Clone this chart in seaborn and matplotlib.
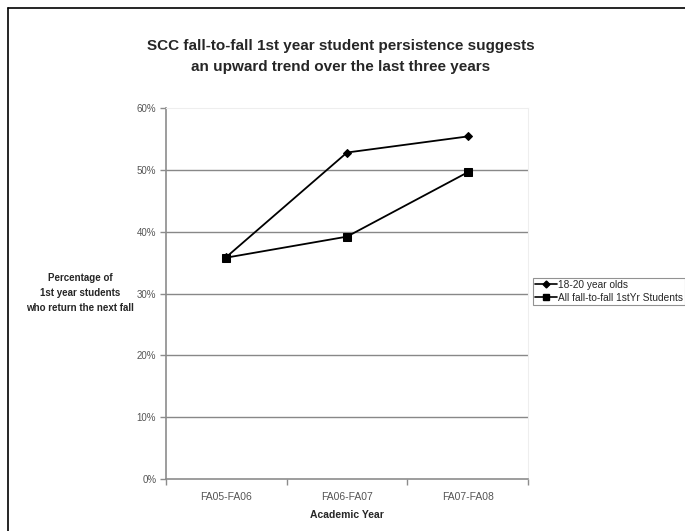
import matplotlib
matplotlib.use("Agg")
import matplotlib.pyplot as plt
from matplotlib.lines import Line2D
from matplotlib.ticker import FixedLocator, PercentFormatter
import seaborn as sns
import pandas as pd

# Academic years and persistence rates (%)
years = ["FA05-FA06", "FA06-FA07", "FA07-FA08"]
age_18_20 = [35.9, 52.8, 55.4]
all_first_year = [35.8, 39.2, 49.6]
series_names = ["18-20 year olds", "All fall-to-fall 1stYr Students"]
y_ticks = [0, 10, 20, 30, 40, 50, 60]

df = pd.DataFrame({
    "year": years * 2,
    "pct": age_18_20 + all_first_year,
    "series": [series_names[0]] * 3 + [series_names[1]] * 3,
})

sns.set_theme(style="white")
plt.rcParams["font.family"] = ["Liberation Sans", "DejaVu Sans"]

fig = plt.figure(figsize=(6.85, 5.31), dpi=100)
ax = fig.add_axes([0.2423, 0.0979, 0.5285, 0.6987])

sns.lineplot(data=df, x="year", y="pct", hue="series", style="series",
             markers={series_names[0]: "D", series_names[1]: "s"},
             dashes=False, palette=["black", "black"], linewidth=1.3,
             markersize=6, markeredgecolor="black", ax=ax, legend=False)
for ln, ms in zip(ax.lines, [4.2, 5.8]):
    ln.set_markersize(ms)

ax.set_xlim(-0.5, len(years) - 0.5)
ax.set_ylim(0, 60)
ax.set_yticks(y_ticks)
ax.yaxis.set_major_formatter(PercentFormatter(decimals=0))
ax.set_xticks(range(len(years)))
ax.set_xticklabels(years)
ax.xaxis.set_minor_locator(FixedLocator([i - 0.5 for i in range(len(years) + 1)]))

grey = "#8c8c8c"
ax.tick_params(axis="x", which="major", length=0, pad=9, labelsize=7.5, labelcolor="#555555")
ax.tick_params(axis="x", which="minor", length=4, width=1, color=grey, bottom=True)
ax.tick_params(axis="y", which="major", length=4, width=1, color=grey, left=True,
               pad=3, labelsize=7, labelcolor="#555555")

for y in y_ticks[1:-1]:
    ax.axhline(y, color="#888888", linewidth=1, zorder=0)

for side in ["left", "bottom"]:
    ax.spines[side].set_color(grey)
    ax.spines[side].set_linewidth(1.2)
for side in ["top", "right"]:
    ax.spines[side].set_color("#eeeeee")
    ax.spines[side].set_linewidth(0.8)

ax.set_xlabel("Academic Year", fontsize=7.5, fontweight="bold", labelpad=6)
ax.set_ylabel("")

fig.text(0.117, 0.448, "Percentage of\n1st year students\nwho return the next fall",
         ha="center", va="center", fontsize=7, fontweight="bold", linespacing=1.6)

fig.text(0.497, 0.894, "SCC fall-to-fall 1st year student persistence suggests\n"
         "an upward trend over the last three years",
         ha="center", va="center", fontsize=11, fontweight="bold", linespacing=1.6)

handles = [Line2D([], [], color="black", marker="D", markersize=3.5, linewidth=1.2),
           Line2D([], [], color="black", marker="s", markersize=5, linewidth=1.2)]
leg = fig.legend(handles, series_names, loc="upper left",
                 bbox_to_anchor=(0.778, 0.4765), fontsize=7.3, frameon=True,
                 fancybox=False, handlelength=2.2, handletextpad=0.05,
                 borderpad=0.2, labelspacing=0.25, borderaxespad=0)
leg.get_frame().set_edgecolor("#777777")
leg.get_frame().set_linewidth(0.8)

# frame lines along the top and left of the figure
fig.add_artist(Line2D([0.0117, 1.0], [0.985, 0.985], color="black", linewidth=1.2,
                      transform=fig.transFigure))
fig.add_artist(Line2D([0.0117, 0.0117], [0.0, 0.985], color="black", linewidth=1.2,
                      transform=fig.transFigure))

fig.savefig("out.png", dpi=100)
